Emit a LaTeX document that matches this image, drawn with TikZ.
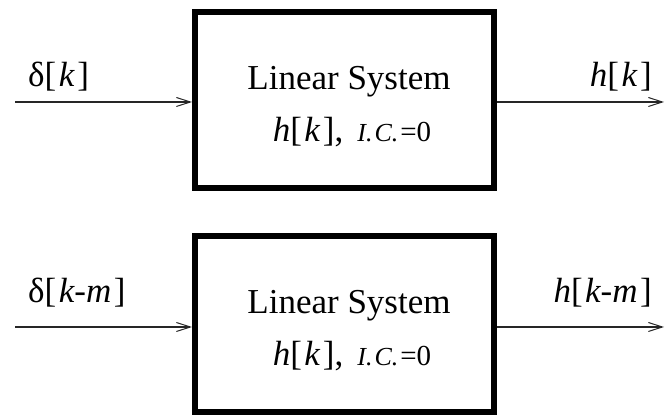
\documentclass[tikz,border=0pt]{standalone}
\usepackage{fontspec}
\setmainfont{Liberation Serif}
\usetikzlibrary{arrows.meta}
\newcommand{\brk}[1]{[\kern2.5pt#1\kern2.5pt]}
\newcommand{\icz}{{\fontsize{26}{28}\selectfont\textit{I.\kern2pt C.}\kern2pt{\fontsize{29}{30}\selectfont=0}}}
\begin{document}
\begin{tikzpicture}[x=1pt,y=1pt,
  sysbox/.style={draw,line width=6pt,minimum width=299pt,minimum height=176pt,inner sep=0pt},
  sig/.style={line width=2pt,draw=black!85,-{Straight Barb[length=14pt,width=9pt,line width=1pt]}},
  lbl/.style={font=\fontsize{35}{40}\selectfont,inner sep=0pt},
  txt/.style={font=\fontsize{35}{40}\selectfont,anchor=base,inner sep=0pt}]
\useasboundingbox (0,0) rectangle (665,419);
% top
\node[sysbox] (b1) at (344.5,318.5) {};
\node[txt] (t1) at (349,329) {Linear System};
\node[txt] (u1) at (352,277) {\textit{h}\brk{\textit{k}},\kern14pt\icz};
\coordinate (i1) at (15,317);
\coordinate (o1) at (664,317);
\draw[sig] (i1) -- (i1 -| b1.west);
\draw[sig] (o1 -| b1.east) -- (o1);
\node[lbl,anchor=base west] (l1) at (28,332) {δ\brk{\textit{k}}};
\node[lbl,anchor=base east] (r1) at (652,332) {\textit{h}\brk{\textit{k}}};
% bottom
\node[sysbox] (b2) at (344.5,94.5) {};
\node[txt] (t2) at (349,105) {Linear System};
\node[txt] (u2) at (352,53) {\textit{h}\brk{\textit{k}},\kern14pt\icz};
\coordinate (i2) at (15,92);
\coordinate (o2) at (664,92);
\draw[sig] (i2) -- (i2 -| b2.west);
\draw[sig] (o2 -| b2.east) -- (o2);
\node[lbl,anchor=base west] (l2) at (28,116) {δ\brk{\textit{k-m}}};
\node[lbl,anchor=base east] (r2) at (652,116) {\textit{h}\brk{\textit{k-m}}};
\end{tikzpicture}
\end{document}
